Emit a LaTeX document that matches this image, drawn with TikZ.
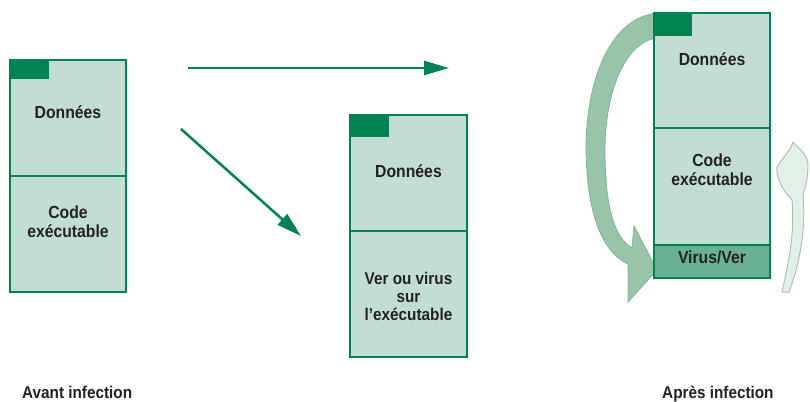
\documentclass[tikz,border=0pt]{standalone}
\usepackage{fontspec}
\setmainfont[FakeStretch=0.9]{Liberation Sans}
\usetikzlibrary{arrows.meta}
\definecolor{dg}{RGB}{0,130,82}
\definecolor{lf}{RGB}{194,222,210}
\definecolor{vf}{RGB}{106,176,146}
\definecolor{ca}{RGB}{152,197,170}
\definecolor{cae}{RGB}{128,182,150}
\definecolor{fa}{RGB}{226,240,232}
\definecolor{fae}{RGB}{170,196,180}
\definecolor{tx}{RGB}{34,34,34}
\begin{document}
\begin{tikzpicture}[x=1pt,y=-1pt,
  cell/.style={draw=dg, line width=2pt, fill=lf, anchor=north west, inner sep=0pt, outer sep=0pt},
  vcell/.style={cell, fill=vf},
  tab/.style={fill=dg, anchor=north west, inner sep=0pt, outer sep=0pt},
  lbl/.style={font=\fontsize{17.5}{19}\selectfont\bfseries, text=tx, anchor=base, inner sep=0pt},
  mlbl/.style={font=\fontsize{17}{18}\selectfont\bfseries, text=tx, align=center, anchor=center, inner sep=0pt},
  caption/.style={font=\fontsize{17}{19}\selectfont\bfseries, text=tx, anchor=base west, inner sep=0pt},
  conn/.style={draw=dg, line width=2.5pt, -{Triangle[length=25pt,width=14pt]}},
  bigarrow/.style={fill=ca, draw=cae, line width=0.8pt},
  faintarrow/.style={fill=fa, draw=fae, line width=1pt, line join=round}]
\useasboundingbox (0,0) rectangle (810,401);
\clip (0,0) rectangle (810,401);

% curved arrows around the infected file
\path[bigarrow] (657,13) .. controls (610,18) and (586,80) .. (586,150)
   .. controls (587,214) and (602,252) .. (628,264)
   -- (628,302) -- (657,270) -- (634,226) -- (632,248)
   .. controls (612,236) and (605,200) .. (605,150)
   .. controls (605,92) and (625,42) .. (657,38) -- cycle;
\path[faintarrow] (793,142) .. controls (800,150) and (808,155) .. (808,165)
   .. controls (808,178) and (806,186) .. (803,194)
   .. controls (806,230) and (800,262) .. (789,292)
   -- (782,292) .. controls (788,265) and (795,235) .. (792,200)
   -- (786,193) .. controls (780,185) and (776,175) .. (777,167)
   .. controls (782,158) and (790,152) .. cycle;

% file 1 (before infection)
\node[cell, minimum width=116pt, minimum height=116pt] (a1) at (10,60) {};
\node[cell, minimum width=116pt, minimum height=116pt] (a2) at (10,176) {};
\node[tab, minimum width=39pt, minimum height=19pt] (at) at (10,60) {};
\node[lbl] (ta1) at (68,118) {Données};
\node[lbl] (ta2) at (68,218) {Code};
\node[lbl] (ta3) at (68,237) {exécutable};

% file 2 (worm or virus)
\node[cell, minimum width=117pt, minimum height=116pt] (b1) at (350,115) {};
\node[cell, minimum width=117pt, minimum height=126pt] (b2) at (350,231) {};
\node[tab, minimum width=39pt, minimum height=22pt] (bt) at (350,115) {};
\node[lbl] (tb1) at (408.5,177) {Données};
\node[mlbl] (tb2) at (408.5,296.3) {Ver ou virus\\sur\\l’exécutable};

% file 3 (after infection)
\node[cell, minimum width=116pt, minimum height=115pt] (c1) at (654,13) {};
\node[cell, minimum width=116pt, minimum height=150pt] (c2) at (654,128) {};
\node[vcell, minimum width=116pt, minimum height=33pt] (c3) at (654,245) {};
\node[tab, minimum width=38pt, minimum height=23pt] (ct) at (654,13) {};
\node[lbl] (tc1) at (712,66) {Données};
\node[lbl] (tc2) at (712,166) {Code};
\node[lbl] (tc3) at (712,185) {exécutable};
\node[lbl] (tc4) at (712,263) {Virus/Ver};

% connectors
\coordinate (h0) at (188,68);
\coordinate (h1) at (449,68);
\coordinate (d0) at (181,129);
\coordinate (d1) at (301,236);
\draw[conn] (h0) -- (h1);
\draw[conn] (d0) -- (d1);

% captions
\node[caption] (l1) at (22,398) {Avant infection};
\node[caption] (l2) at (662,398) {Après infection};
\end{tikzpicture}
\end{document}
